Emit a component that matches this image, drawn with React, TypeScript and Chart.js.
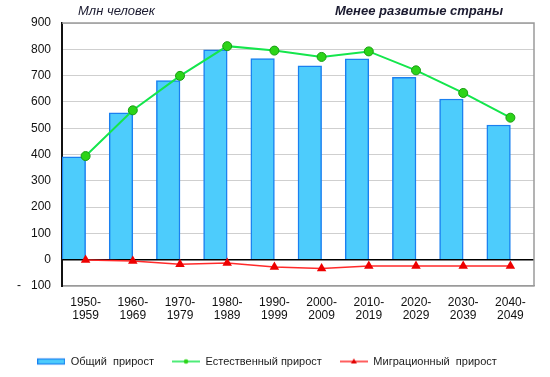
import { useEffect, useRef } from "react";
import { Chart, registerables } from "chart.js";

Chart.register(...registerables);

const categories: string[][] = [
  ["1950-", "1959"],
  ["1960-", "1969"],
  ["1970-", "1979"],
  ["1980-", "1989"],
  ["1990-", "1999"],
  ["2000-", "2009"],
  ["2010-", "2019"],
  ["2020-", "2029"],
  ["2030-", "2039"],
  ["2040-", "2049"],
];
const totalGrowth = [391, 558, 681, 798, 765, 737, 764, 693, 611, 512];
const naturalGrowth = [394, 568, 699, 812, 795, 771, 792, 720, 634, 540];
const migrationGrowth = [-1, -5, -17, -13, -28, -33, -24, -24, -24, -24];
const seriesNames = ["Общий  прирост", "Естественный прирост", "Миграционный  прирост"];
const unitTitle = "Млн человек";
const chartTitle = "Менее развитые страны";
const yMin = -100;
const yMax = 900;
const yStep = 100;

const FONT = "'Liberation Sans', Arial, sans-serif";
const BAR_FILL = "#4dccfc";
const BAR_BORDER = "#1a80f0";
const GREEN_LINE = "#14e64c";
const GREEN_FILL = "#2cd418";
const GREEN_BORDER = "#179c12";
const RED = "#ff2a2a";

function makeSymbol(kind: "bar" | "green" | "red"): HTMLCanvasElement {
  const c = document.createElement("canvas");
  c.width = 28;
  c.height = 10;
  const g = c.getContext("2d")!;
  if (kind === "bar") {
    g.fillStyle = BAR_FILL;
    g.fillRect(0.5, 2.5, 27, 5);
    g.strokeStyle = BAR_BORDER;
    g.lineWidth = 1.2;
    g.strokeRect(0.5, 2.5, 27, 5);
  } else if (kind === "green") {
    g.strokeStyle = GREEN_LINE;
    g.lineWidth = 1.5;
    g.beginPath();
    g.moveTo(0, 5);
    g.lineTo(28, 5);
    g.stroke();
    g.fillStyle = GREEN_FILL;
    g.beginPath();
    g.arc(14, 5, 2.3, 0, Math.PI * 2);
    g.fill();
  } else {
    g.strokeStyle = RED;
    g.lineWidth = 1.5;
    g.beginPath();
    g.moveTo(0, 5);
    g.lineTo(28, 5);
    g.stroke();
    g.fillStyle = "#e00000";
    g.beginPath();
    g.moveTo(14, 2);
    g.lineTo(17, 7);
    g.lineTo(11, 7);
    g.closePath();
    g.fill();
  }
  return c;
}

const framePlugin = {
  id: "frame",
  beforeDatasetsDraw(chart: any) {
    const { ctx, chartArea } = chart;
    ctx.save();
    ctx.strokeStyle = "#9a9a9a";
    ctx.lineWidth = 1.5;
    ctx.beginPath();
    ctx.moveTo(chartArea.left, chartArea.top);
    ctx.lineTo(chartArea.right, chartArea.top);
    ctx.lineTo(chartArea.right, chartArea.bottom);
    ctx.stroke();
    ctx.restore();
  },
  afterDraw(chart: any) {
    const { ctx, chartArea } = chart;
    ctx.save();
    ctx.fillStyle = "#1b1b30";
    ctx.textBaseline = "middle";
    ctx.textAlign = "left";
    ctx.font = `italic 13px ${FONT}`;
    ctx.fillText(unitTitle, chartArea.left + 16, 11);
    ctx.font = `italic bold 13px ${FONT}`;
    ctx.textAlign = "center";
    ctx.fillText(chartTitle, 419, 11);
    ctx.restore();
  },
};

export default function App() {
  const ref = useRef<HTMLCanvasElement>(null);
  useEffect(() => {
    const symbols = [makeSymbol("bar"), makeSymbol("green"), makeSymbol("red")];
    const chart = new Chart(ref.current!, {
      type: "bar",
      data: {
        labels: categories,
        datasets: [
          {
            type: "line",
            label: seriesNames[1],
            data: naturalGrowth,
            borderColor: GREEN_LINE,
            borderWidth: 2,
            pointBackgroundColor: GREEN_FILL,
            pointBorderColor: GREEN_BORDER,
            pointBorderWidth: 1,
            pointRadius: 4.5,
            tension: 0,
            order: 1,
          } as any,
          {
            type: "line",
            label: seriesNames[2],
            data: migrationGrowth,
            borderColor: RED,
            borderWidth: 1.5,
            pointStyle: "triangle",
            pointBackgroundColor: "#ee0000",
            pointBorderColor: "#ee0000",
            pointBorderWidth: 0,
            pointRadius: 5.5,
            tension: 0,
            order: 2,
          } as any,
          {
            type: "bar",
            label: seriesNames[0],
            data: totalGrowth,
            backgroundColor: BAR_FILL,
            borderColor: BAR_BORDER,
            borderWidth: 1.5,
            categoryPercentage: 1,
            barPercentage: 1,
            order: 3,
          },
          {
            type: "bar",
            label: "_spacer",
            data: totalGrowth.map(() => null),
            backgroundColor: "transparent",
            categoryPercentage: 1,
            barPercentage: 1,
            order: 4,
          },
        ],
      },
      options: {
        animation: false,
        responsive: false,
        layout: { padding: { top: 23, right: 16, left: 0, bottom: 0 } },
        plugins: {
          tooltip: { enabled: false },
          legend: {
            position: "bottom",
            labels: {
              usePointStyle: true,
              pointStyleWidth: 28,
              padding: 18,
              color: "#1a1a1a",
              font: { family: FONT, size: 11 },
              generateLabels: () =>
                seriesNames.map((name, i) => ({
                  text: name,
                  pointStyle: symbols[i] as any,
                  fillStyle: "transparent",
                  strokeStyle: "transparent",
                  lineWidth: 0,
                  hidden: false,
                  datasetIndex: i,
                  fontColor: "#1a1a1a",
                })),
            },
          },
        },
        scales: {
          x: {
            grid: { display: false },
            border: { display: true, color: "#9a9a9a", width: 1.5 },
            ticks: {
              color: "#111",
              font: { family: FONT, size: 12, lineHeight: 1.1 },
              padding: 2,
              maxRotation: 0,
              autoSkip: false,
            },
            afterFit: (s: any) => {
              s.height = 52;
            },
          },
          y: {
            min: yMin,
            max: yMax,
            grid: {
              drawTicks: false,
              color: (c: any) => (c.tick && c.tick.value === 0 ? "#000" : "#cfcfcf"),
              lineWidth: (c: any) => (c.tick && c.tick.value === 0 ? 1.5 : 1),
            },
            border: { display: true, color: "#111", width: 2 },
            ticks: {
              stepSize: yStep,
              color: "#111",
              font: { family: FONT, size: 12 },
              padding: 11,
              callback: (v: any) => (Number(v) < 0 ? "-   " + Math.abs(Number(v)) : String(v)),
            },
            afterFit: (s: any) => {
              s.width = 62;
            },
          },
        },
      },
      plugins: [framePlugin],
    });
    return () => chart.destroy();
  }, []);
  return (
    <div style={{ position: "absolute", left: 0, top: 0, width: 550, height: 377, background: "#fff" }}>
      <canvas ref={ref} width={550} height={377} style={{ display: "block" }} />
    </div>
  );
}
